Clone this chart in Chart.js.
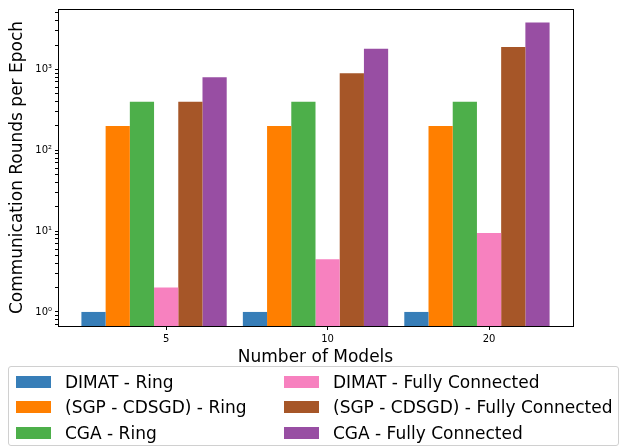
<!DOCTYPE html>
<html>
<head>
<meta charset="utf-8">
<script src="https://cdn.jsdelivr.net/npm/chart.js@4"></script>
<style>
  body { margin: 0; background: #fff; }
  #wrap { position: relative; width: 621px; height: 448px; }
  #legenda {
    position: absolute; left: 8px; top: 366px; width: 611px; height: 80px;
    box-sizing: border-box; border: 1px solid #d0d0d0; border-radius: 3px;
    display: grid; grid-auto-flow: column;
    grid-template-rows: repeat(3, 25.5px); grid-template-columns: 268px 1fr;
    padding-top: 2px; padding-left: 7px;
    font-family: "DejaVu Sans", sans-serif; font-size: 17px; color: #000;
  }
  #legenda .item { display: flex; align-items: center; white-space: nowrap; }
  #legenda .box { width: 35px; height: 12px; margin-right: 14px; }
</style>
</head>
<body>
<div id="wrap">
  <canvas id="graf" width="621" height="448"></canvas>
  <div id="legenda"></div>
</div>
<script>
// broj modela po grupi
var modeli = ['5', '10', '20'];

var nazivi = [
  'DIMAT - Ring',
  '(SGP - CDSGD) - Ring',
  'CGA - Ring',
  'DIMAT - Fully Connected',
  '(SGP - CDSGD) - Fully Connected',
  'CGA - Fully Connected'
];

var dimatRing = [1, 1, 1];
var sgpRing = [200, 200, 200];
var cgaRing = [400, 400, 400];
var dimatFull = [2, 4.5, 9.5];
var sgpFull = [400, 900, 1900];
var cgaFull = [800, 1800, 3800];

var boje = ['#377eb8', '#ff7f00', '#4daf4a', '#f781bf', '#a65628', '#984ea3'];

var serije = [dimatRing, sgpRing, cgaRing, dimatFull, sgpFull, cgaFull];
var udioGrupe = 0.9;

var sup = {'0': '\u2070', '1': '\u00b9', '2': '\u00b2', '3': '\u00b3'};

var datasets = serije.map(function (s, k) {
  return {
    label: nazivi[k],
    data: s.map(function (v, i) { return {x: i, y: v}; }),
    backgroundColor: boje[k],
    borderWidth: 0
  };
});

// okvir oko grafa (gornja i desna linija)
var okvir = {
  id: 'okvir',
  afterDraw: function (chart) {
    var a = chart.chartArea, c = chart.ctx;
    c.save();
    c.strokeStyle = '#000';
    c.lineWidth = 1;
    c.strokeRect(Math.round(a.left) + 0.5, Math.round(a.top) + 0.5,
      Math.round(a.right - a.left), Math.round(a.bottom - a.top));
    c.restore();
  }
};

var ctx = document.getElementById('graf').getContext('2d');
var chart = new Chart(ctx, {
  type: 'bar',
  data: { datasets: datasets },
  plugins: [okvir],
  options: {
    responsive: false,
    animation: false,
    categoryPercentage: udioGrupe,
    barPercentage: 1.0,
    layout: { padding: { top: 6, right: 48, bottom: 78, left: 0 } },
    plugins: { legend: { display: false }, tooltip: { enabled: false } },
    scales: {
      x: {
        type: 'linear',
        offset: false,
        min: -0.595,
        max: 2.595,
        afterFit: function (s) { s.height = 44; },
        afterBuildTicks: function (s) {
          // oznaka ispod sredine cetvrtog stupca
          var pomak = udioGrupe / serije.length / 2;
          s.ticks = modeli.map(function (m, i) { return {value: i + pomak}; });
        },
        ticks: {
          autoSkip: false,
          maxRotation: 0,
          padding: 3,
          color: '#000',
          font: { family: 'DejaVu Sans', size: 10 },
          callback: function (v, i) { return modeli[i]; }
        },
        grid: { offset: false, drawOnChartArea: false, tickLength: 4, color: '#000' },
        border: { color: '#000', width: 1 },
        title: {
          display: true,
          text: 'Number of Models',
          color: '#000',
          font: { family: 'DejaVu Sans', size: 17 },
          padding: { top: 0, bottom: 2 }
        }
      },
      y: {
        type: 'logarithmic',
        min: 0.67,
        max: 5600,
        afterFit: function (s) { s.width = 58; },
        afterBuildTicks: function (s) {
          var t = [0.7, 0.8, 0.9];
          [1, 10, 100, 1000].forEach(function (d) {
            for (var m = 1; m <= 9; m++) {
              if (d * m <= 5600) t.push(d * m);
            }
          });
          s.ticks = t.map(function (v) { return {value: v}; });
        },
        ticks: {
          autoSkip: false,
          padding: 3,
          color: '#000',
          font: { family: 'DejaVu Sans', size: 10 },
          callback: function (v) {
            var e = Math.log10(v);
            if (Math.abs(e - Math.round(e)) > 1e-9) return '';
            return '10' + sup[String(Math.round(e))];
          }
        },
        grid: { drawOnChartArea: false, tickLength: 3, color: '#000' },
        border: { color: '#000', width: 1 },
        title: {
          display: true,
          text: 'Communication Rounds per Epoch',
          color: '#000',
          font: { family: 'DejaVu Sans', size: 17 },
          padding: { top: 7, bottom: 0 }
        }
      }
    }
  }
});

// legenda u dva stupca
function napraviLegendu(chart) {
  var insert = document.getElementById('legenda');
  insert.innerHTML = '';
  chart.data.datasets.forEach(function (ds) {
    var item = document.createElement('div');
    item.className = 'item';
    var box = document.createElement('span');
    box.className = 'box';
    box.style.background = ds.backgroundColor;
    item.appendChild(box);
    item.appendChild(document.createTextNode(ds.label));
    insert.appendChild(item);
  });
}
napraviLegendu(chart);
</script>
</body>
</html>
